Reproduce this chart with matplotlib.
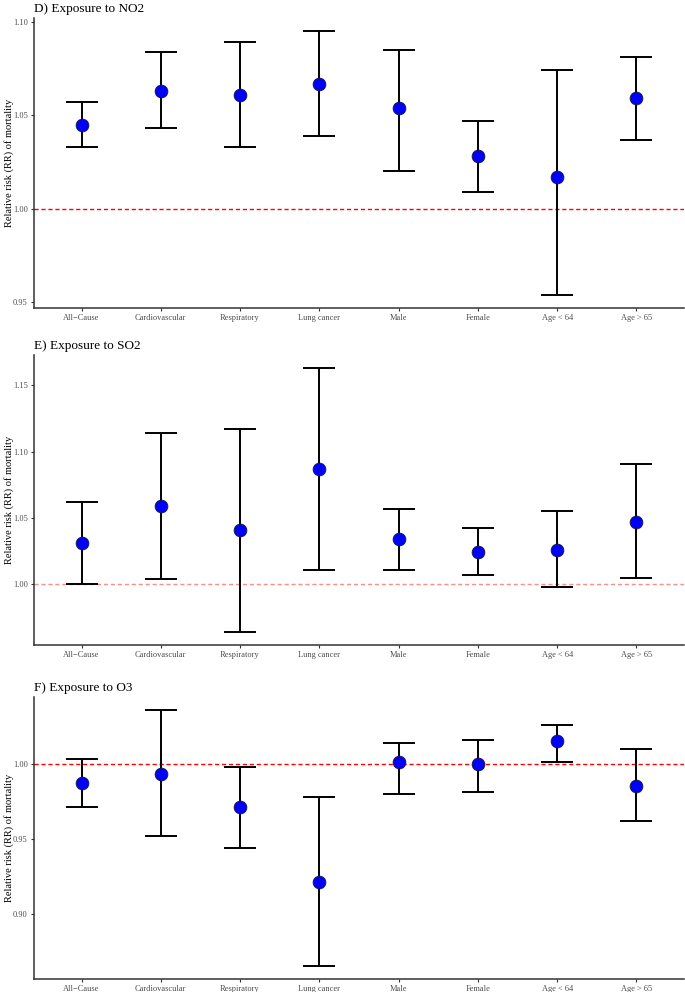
import matplotlib
matplotlib.use("Agg")
import matplotlib.pyplot as plt
import numpy as np

plt.rcParams['font.family'] = ['Liberation Serif', 'DejaVu Serif']

categories = ["All\u2212Cause", "Cardiovascular", "Respiratory", "Lung cancer",
              "Male", "Female", "Age < 64", "Age > 65"]

no2_rr = [1.045, 1.063, 1.061, 1.067, 1.054, 1.028, 1.017, 1.059]
no2_hi = [1.057, 1.084, 1.089, 1.095, 1.085, 1.047, 1.074, 1.081]
no2_lo = [1.033, 1.043, 1.033, 1.039, 1.020, 1.009, 0.954, 1.037]

so2_rr = [1.031, 1.059, 1.041, 1.087, 1.034, 1.024, 1.026, 1.047]
so2_hi = [1.062, 1.114, 1.117, 1.163, 1.057, 1.042, 1.055, 1.091]
so2_lo = [1.000, 1.004, 0.964, 1.011, 1.011, 1.007, 0.998, 1.005]

o3_rr = [0.987, 0.993, 0.971, 0.921, 1.001, 1.000, 1.015, 0.985]
o3_hi = [1.003, 1.036, 0.998, 0.978, 1.014, 1.016, 1.026, 1.010]
o3_lo = [0.971, 0.952, 0.944, 0.865, 0.980, 0.981, 1.001, 0.962]

yticks_no2 = [0.95, 1.00, 1.05, 1.10]
yticks_so2 = [1.00, 1.05, 1.10, 1.15]
yticks_o3 = [0.90, 0.95, 1.00]

panels = [
    ("D) Exposure to NO2", no2_rr, no2_lo, no2_hi, yticks_no2, 0.9819, 0.6895, 1.0),
    ("E) Exposure to SO2", so2_rr, so2_lo, so2_hi, yticks_so2, 0.6421, 0.3498, 0.45),
    ("F) Exposure to O3", o3_rr, o3_lo, o3_hi, yticks_o3, 0.2974, 0.0131, 1.0),
]

fig = plt.figure(figsize=(6.85, 9.92), dpi=100)
left, right = 0.0496, 0.9985
x = np.arange(1, len(categories) + 1)

for title, rr, lo, hi, yt, top, bottom, ref_alpha in panels:
    ax = fig.add_axes([left, bottom, right - left, top - bottom])
    rr = np.array(rr); lo = np.array(lo); hi = np.array(hi)
    ax.axhline(1.0, color='red', ls=(0, (3, 2)), lw=1.0, alpha=ref_alpha, zorder=1)
    ax.errorbar(x, rr, yerr=[rr - lo, hi - rr], fmt='none', ecolor='black',
                elinewidth=1.4, capsize=11.5, capthick=1.4, zorder=2)
    ax.plot(x, rr, 'o', ms=9.2, mfc='#0000FF', mec='#1a1a33', mew=0.6, zorder=3)
    dmin, dmax = lo.min(), hi.max()
    pad = 0.05 * (dmax - dmin)
    ax.set_ylim(dmin - pad, dmax + pad)
    ax.set_xlim(0.4, len(categories) + 0.6)
    ax.set_xticks(x)
    ax.set_xticklabels(categories, fontsize=6, color='#4d4d4d')
    ax.set_yticks(yt)
    ax.set_yticklabels([f"{v:.2f}" for v in yt], fontsize=6, color='#4d4d4d')
    ax.tick_params(axis='both', length=2.5, width=0.8, color='#333333', pad=2)
    for s in ['top', 'right']:
        ax.spines[s].set_visible(False)
    for s in ['left', 'bottom']:
        ax.spines[s].set_linewidth(1.1)
        ax.spines[s].set_color('#333333')
    ax.set_ylabel("Relative risk (RR) of mortality", fontsize=7.5)
    ax.yaxis.set_label_coords(-0.030, 0.5)
    ax.set_title(title, fontsize=9.5, loc='left', pad=4)

fig.savefig("out.png", dpi=100)
